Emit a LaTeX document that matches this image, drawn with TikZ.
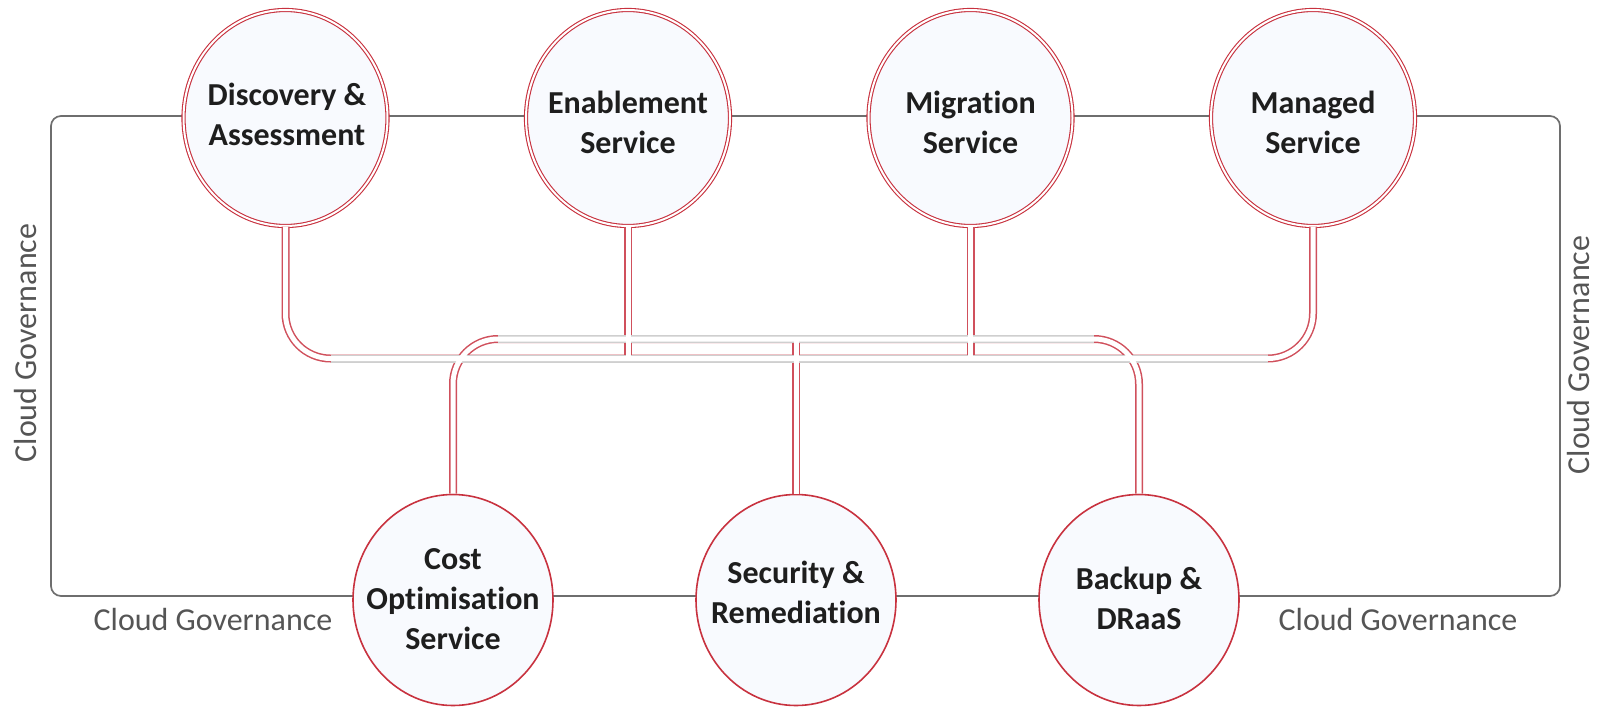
\documentclass[tikz,border=0pt]{standalone}
\usepackage{fontspec}
\setmainfont{Carlito}[Ligatures=NoCommon]
\usetikzlibrary{shapes.geometric,calc}
\definecolor{pipered}{HTML}{D0505C}
\definecolor{ringred}{HTML}{C8323F}
\definecolor{cfill}{HTML}{F8FAFE}
\definecolor{framegray}{HTML}{6E6E6E}
\definecolor{lblgray}{HTML}{555555}
\definecolor{hgray}{HTML}{CFCFCF}
\definecolor{txtblack}{HTML}{1E1E1E}
\newcommand\pipepaths[1]{%
  \draw[#1, rounded corners=22.5pt] (disc.south) -- (disc.south |- busA) -- (mgd.south |- busA) -- (mgd.south);
  \draw[#1] (enab.south) -- (enab.south |- busA);
  \draw[#1] (migr.south) -- (migr.south |- busA);
  \draw[#1, rounded corners=22.5pt] (cost.north) -- (cost.north |- busB) -- (back.north |- busB) -- (back.north);
  \draw[#1] (secu.north) -- (secu.north |- busB);
}
\begin{document}
\begin{tikzpicture}[x=0.5pt,y=-0.5pt,
  svctext/.style={inner sep=0pt, align=center,
    font=\fontsize{16}{20}\selectfont\bfseries, text=txtblack},
  svc/.style={ellipse, fill=cfill, inner sep=0pt},
  topsvc/.style={svc, minimum width=102pt, minimum height=108pt,
    draw=ringred, line width=0.55pt, double=white, double distance=1pt},
  botsvc/.style={svc, minimum width=100pt, minimum height=105.5pt,
    draw=ringred, line width=0.8pt},
  gov/.style={font=\fontsize{16}{20}\selectfont, text=lblgray, inner sep=0pt},
  pipeout/.style={draw=pipered, line width=4pt},
  pipegray/.style={draw=hgray, line width=4pt},
  pipein/.style={draw=white, line width=2.5pt},
  govframe/.style={draw=framegray, line width=0.85pt, rounded corners=5pt}
]
\useasboundingbox (0,0) rectangle (1602,707);
% governance frame
\draw[govframe] (51,116) rectangle (1560,596);
% services
\node[topsvc] (disc) at (285.5,118) {};
\node[topsvc] (enab) at (628,118) {};
\node[topsvc] (migr) at (970.5,118) {};
\node[topsvc] (mgd)  at (1313,118) {};
\node[botsvc] (cost) at (453,600) {};
\node[botsvc] (secu) at (796,600) {};
\node[botsvc] (back) at (1139,600) {};
\node[svctext] (discT) at (287,114) {Discovery \&\\Assessment};
\node[svctext] (enabT) at (628,122) {Enablement\\Service};
\node[svctext] (migrT) at (970.5,122) {Migration\\Service};
\node[svctext] (mgdT)  at (1313,122) {Managed\\Service};
\node[svctext] (costT) at (453,599) {Cost\\Optimisation\\Service};
\node[svctext] (secuT) at (796,592) {Security \&\\Remediation};
\node[svctext] (backT) at (1139,598) {Backup \&\\DRaaS};
% buses
\coordinate (busA) at (0,358.5);
\coordinate (busB) at (0,339);
% pipes: outer, grey straight runs, inner
\pipepaths{pipeout}
\draw[pipegray] ($(disc.south |- busA)+(45,0)$) -- ($(mgd.south |- busA)+(-45,0)$);
\draw[pipegray] ($(cost.north |- busB)+(45,0)$) -- ($(back.north |- busB)+(-45,0)$);
\pipepaths{pipein}
% labels
\node[gov, rotate=90] (gl) at (26,343) {Cloud Governance};
\node[gov, rotate=90] (gr) at (1578,355) {Cloud Governance};
\node[gov] (gbl) at (213,620) {Cloud Governance};
\node[gov] (gbr) at (1398,620) {Cloud Governance};
\end{tikzpicture}
\end{document}
